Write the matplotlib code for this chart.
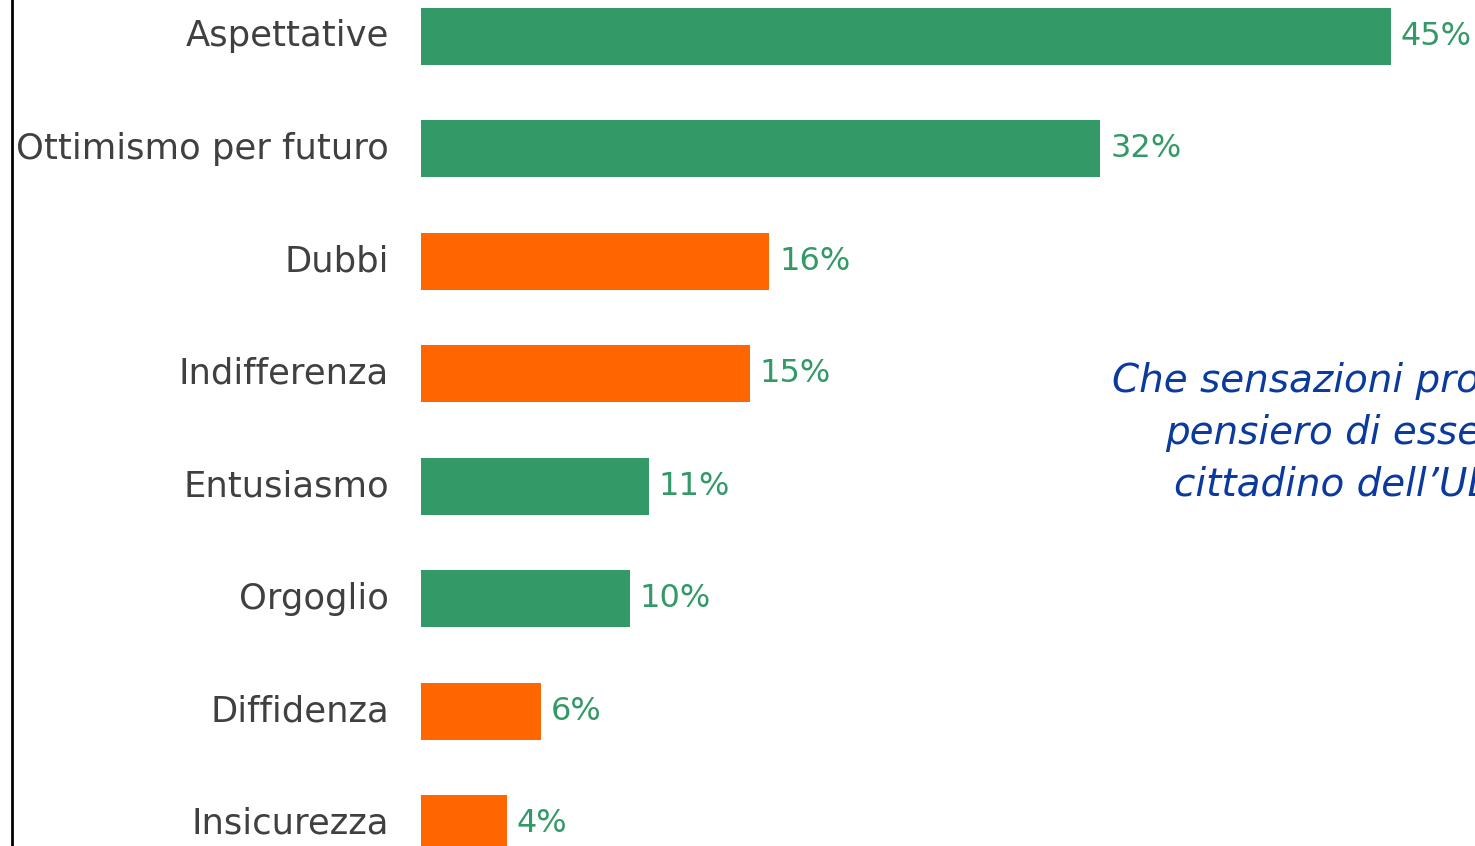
import matplotlib
matplotlib.use("Agg")
import matplotlib.pyplot as plt
from matplotlib.lines import Line2D

categories = ["Aspettative", "Ottimismo per futuro", "Dubbi", "Indifferenza",
              "Entusiasmo", "Orgoglio", "Diffidenza", "Insicurezza"]
values = [45.1, 31.6, 16.2, 15.3, 10.6, 9.7, 5.6, 4.0]
value_labels = ["45%", "32%", "16%", "15%", "11%", "10%", "6%", "4%"]
sentiment = ["pos", "pos", "neg", "neg", "pos", "pos", "neg", "neg"]
question_lines = ["Che sensazioni prova al", "pensiero di essere", "cittadino dell\u2019UE?"]

GREEN = "#339966"
ORANGE = "#FF6600"
W, H = 1475, 846

plt.rcParams['font.family'] = ['DejaVu Sans']
fig = plt.figure(figsize=(W / 100, H / 100), dpi=100)
fig.patch.set_facecolor("white")

px_per_unit = 21.5
left_px = 421
top_px = -20
bottom_px = 880
ax = fig.add_axes([left_px / W, (H - bottom_px) / H, (W - left_px) / W, (bottom_px - top_px) / H])
ax.set_xlim(0, (W - left_px) / px_per_unit)
ax.set_ylim(len(categories) - 0.5, -0.5)

ypos = list(range(len(categories)))
colors = [GREEN if s == "pos" else ORANGE for s in sentiment]
ax.barh(ypos, values, height=0.51, color=colors, clip_on=False)

for y, v, lab in zip(ypos, values, value_labels):
    ax.annotate(lab, xy=(v, y), xytext=(7, 0), textcoords="offset points",
                ha="left", va="center", fontsize=23, color=GREEN)
    ax.annotate(categories[y], xy=(0, y), xytext=(-23, 0), textcoords="offset points",
                ha="right", va="center", fontsize=25.5, color="#404040",
                annotation_clip=False)

ax.axis("off")

fig.add_artist(Line2D([12 / W, 12 / W], [0, 1], color="black", lw=2, transform=fig.transFigure))

center_x = 1343
ys = [381, 433, 484]
for line, y in zip(question_lines, ys):
    fig.text(center_x / W, 1 - y / H, line, ha="center", va="center", fontsize=28,
             style="italic", color="#0A3A9E")

fig.savefig("out.png", dpi=100, facecolor="white")
